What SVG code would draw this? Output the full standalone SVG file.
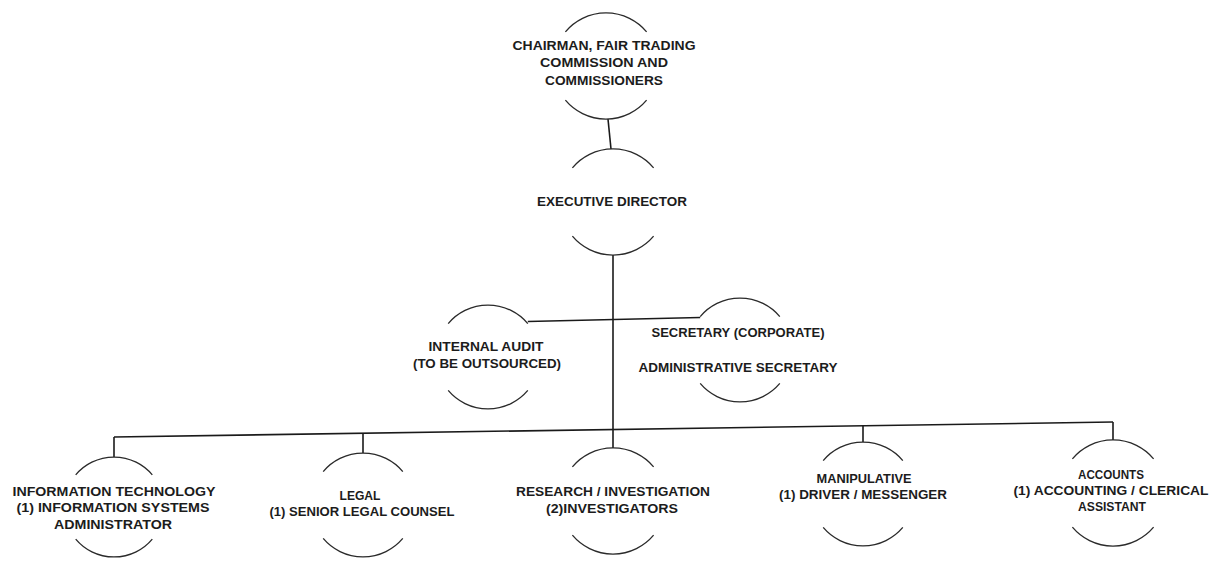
<svg xmlns="http://www.w3.org/2000/svg" width="1217" height="563" viewBox="0 0 1217 563">
<style>
.arc{fill:none;stroke:#2a2a2a;stroke-width:1.3}
.ln{fill:none;stroke:#1a1a1a;stroke-width:1.6}
text{font-family:"Liberation Sans","DejaVu Sans Condensed",Arial,sans-serif;font-size:13.5px;font-weight:bold;fill:#1c1c1c;text-anchor:middle}
</style>
<rect width="1217" height="563" fill="#ffffff"/>
<g id="connectors">
<path class="ln" d="M608 119 L611 149"/>
<path class="ln" d="M613 255 L613 448"/>
<path class="ln" d="M527.8 321.5 L700.2 317.5"/>
<path class="ln" d="M114 437 L1113 422"/>
<path class="ln" d="M114 437 L114 457"/>
<path class="ln" d="M363 433.3 L363 453"/>
<path class="ln" d="M863 425.8 L863 442"/>
<path class="ln" d="M1113 422 L1113 440"/>
</g>
<g id="chairman">
<path class="arc" d="M565.4 31.9 A53 53 0 0 1 646.6 31.9"/>
<path class="arc" d="M565.4 100.1 A53 53 0 0 0 646.6 100.1"/>
<text x="604" y="50" textLength="183" lengthAdjust="spacingAndGlyphs">CHAIRMAN, FAIR TRADING</text>
<text x="604" y="67" textLength="128" lengthAdjust="spacingAndGlyphs">COMMISSION AND</text>
<text x="604" y="85" textLength="118" lengthAdjust="spacingAndGlyphs">COMMISSIONERS</text>
</g>
<g id="executive-director">
<path class="arc" d="M572.4 167.9 A53 53 0 0 1 653.6 167.9"/>
<path class="arc" d="M572.4 236.1 A53 53 0 0 0 653.6 236.1"/>
<text x="612" y="206" textLength="150" lengthAdjust="spacingAndGlyphs">EXECUTIVE DIRECTOR</text>
</g>
<g id="internal-audit">
<path class="arc" d="M448.2 323.6 A52 52 0 0 1 527.8 323.6"/>
<path class="arc" d="M448.2 390.4 A52 52 0 0 0 527.8 390.4"/>
<text x="486" y="351" textLength="115" lengthAdjust="spacingAndGlyphs">INTERNAL AUDIT</text>
<text x="487" y="368" textLength="148" lengthAdjust="spacingAndGlyphs">(TO BE OUTSOURCED)</text>
</g>
<g id="secretary">
<path class="arc" d="M700.2 316.6 A52 52 0 0 1 779.8 316.6"/>
<path class="arc" d="M700.2 383.4 A52 52 0 0 0 779.8 383.4"/>
<text x="738" y="337" textLength="173" lengthAdjust="spacingAndGlyphs">SECRETARY (CORPORATE)</text>
<text x="738" y="372" textLength="199" lengthAdjust="spacingAndGlyphs">ADMINISTRATIVE SECRETARY</text>
</g>
<g id="information-technology">
<path class="arc" d="M75.7 474.9 A50 50 0 0 1 152.3 474.9"/>
<path class="arc" d="M75.7 539.1 A50 50 0 0 0 152.3 539.1"/>
<text x="114" y="496" textLength="203" lengthAdjust="spacingAndGlyphs">INFORMATION TECHNOLOGY</text>
<text x="113" y="512" textLength="193" lengthAdjust="spacingAndGlyphs">(1) INFORMATION SYSTEMS</text>
<text x="113" y="529" textLength="118" lengthAdjust="spacingAndGlyphs">ADMINISTRATOR</text>
</g>
<g id="legal">
<path class="arc" d="M323.2 471.6 A52 52 0 0 1 402.8 471.6"/>
<path class="arc" d="M323.2 538.4 A52 52 0 0 0 402.8 538.4"/>
<text x="360" y="500" textLength="41" lengthAdjust="spacingAndGlyphs">LEGAL</text>
<text x="362" y="516" textLength="185" lengthAdjust="spacingAndGlyphs">(1) SENIOR LEGAL COUNSEL</text>
</g>
<g id="research">
<path class="arc" d="M572.4 466.9 A53 53 0 0 1 653.6 466.9"/>
<path class="arc" d="M572.4 535.1 A53 53 0 0 0 653.6 535.1"/>
<text x="613" y="496" textLength="194" lengthAdjust="spacingAndGlyphs">RESEARCH / INVESTIGATION</text>
<text x="612" y="513" textLength="132" lengthAdjust="spacingAndGlyphs">(2)INVESTIGATORS</text>
</g>
<g id="manipulative">
<path class="arc" d="M823.2 460.6 A52 52 0 0 1 902.8 460.6"/>
<path class="arc" d="M823.2 527.4 A52 52 0 0 0 902.8 527.4"/>
<text x="864" y="483" textLength="95" lengthAdjust="spacingAndGlyphs">MANIPULATIVE</text>
<text x="863" y="499" textLength="168" lengthAdjust="spacingAndGlyphs">(1) DRIVER / MESSENGER</text>
</g>
<g id="accounts">
<path class="arc" d="M1072.4 458.9 A53 53 0 0 1 1153.6 458.9"/>
<path class="arc" d="M1072.4 527.1 A53 53 0 0 0 1153.6 527.1"/>
<text x="1111" y="479" textLength="66" lengthAdjust="spacingAndGlyphs">ACCOUNTS</text>
<text x="1111" y="495" textLength="195" lengthAdjust="spacingAndGlyphs">(1) ACCOUNTING / CLERICAL</text>
<text x="1112" y="511" textLength="68" lengthAdjust="spacingAndGlyphs">ASSISTANT</text>
</g>
</svg>
